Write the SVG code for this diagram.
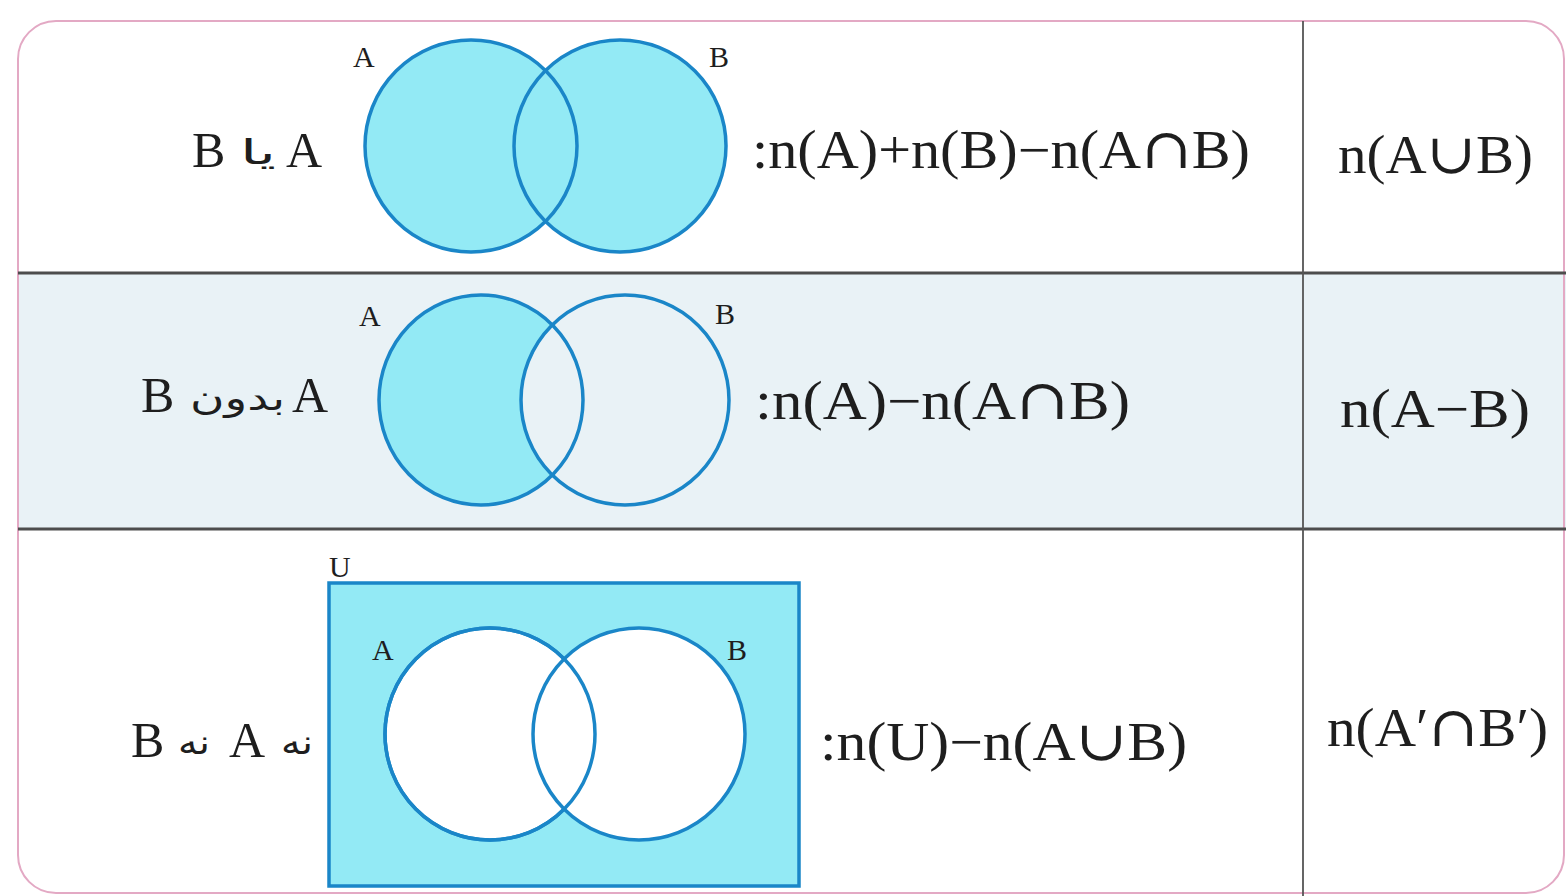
<svg xmlns="http://www.w3.org/2000/svg" width="1566" height="896" viewBox="0 0 1566 896">
<style>
.big{font-family:"Liberation Serif","DejaVu Serif",serif;font-size:54px;fill:#1e1e1e}
.op{font-family:"DejaVu Serif",serif;font-size:56px}
.lat{font-family:"Liberation Serif","DejaVu Serif",serif;font-size:50px;fill:#1e1e1e}
.fa{font-family:"DejaVu Sans","Noto Sans",sans-serif;font-size:34px;fill:#1e1e1e}
.lbl{font-family:"Liberation Serif","DejaVu Serif",serif;font-size:30px;fill:#1e1e1e}
.set{stroke:#1a86c8;stroke-width:3.5}
.cy{fill:#93eaf5}
.rowline{stroke:#4d4d4d;stroke-width:3}
</style>
<rect width="1566" height="896" fill="#ffffff"/>
<g id="row2-bg"><rect x="18" y="273" width="1548" height="256" fill="#e9f2f6"/></g>
<g id="frame"><rect x="18" y="21" width="1546" height="872" rx="38" fill="none" stroke="#e3a9c4" stroke-width="2"/></g>
<g id="grid">
<line class="rowline" x1="18" y1="273" x2="1566" y2="273"/>
<line class="rowline" x1="18" y1="529" x2="1566" y2="529"/>
<line x1="1303" y1="21" x2="1303" y2="896" stroke="#555" stroke-width="1.8"/>
</g>
<g id="row1">
<text class="lat" x="192" y="167">B</text>
<text class="fa" x="240" y="164" textLength="36" lengthAdjust="spacingAndGlyphs">یا</text>
<text class="lat" x="286" y="167">A</text>
<circle class="cy" cx="471" cy="146" r="106"/>
<circle class="cy" cx="620" cy="146" r="106"/>
<circle class="set" cx="471" cy="146" r="106" fill="none"/>
<circle class="set" cx="620" cy="146" r="106" fill="none"/>
<text class="lbl" x="353" y="67">A</text>
<text class="lbl" x="709" y="67">B</text>
<text class="big" x="752" y="168" textLength="498" lengthAdjust="spacingAndGlyphs">:n(A)+n(B)−n(A<tspan class="op">∩</tspan>B)</text>
<text class="big" x="1338" y="173" textLength="195" lengthAdjust="spacingAndGlyphs">n(A<tspan class="op">∪</tspan>B)</text>
</g>
<g id="row2">
<text class="lat" x="141" y="412">B</text>
<text class="fa" x="190" y="410" textLength="95" lengthAdjust="spacingAndGlyphs">بدون</text>
<text class="lat" x="292" y="412">A</text>
<ellipse class="cy" cx="481" cy="400" rx="102" ry="105"/>
<ellipse cx="625" cy="400" rx="104" ry="105" fill="#e9f2f6"/>
<ellipse class="set" cx="481" cy="400" rx="102" ry="105" fill="none"/>
<ellipse class="set" cx="625" cy="400" rx="104" ry="105" fill="none"/>
<text class="lbl" x="359" y="326">A</text>
<text class="lbl" x="715" y="324">B</text>
<text class="big" x="755" y="419" textLength="375" lengthAdjust="spacingAndGlyphs">:n(A)−n(A<tspan class="op">∩</tspan>B)</text>
<text class="big" x="1340" y="427" textLength="190" lengthAdjust="spacingAndGlyphs">n(A−B)</text>
</g>
<g id="row3">
<text class="lat" x="131" y="757">B</text>
<text class="fa" x="178" y="754" textLength="32" lengthAdjust="spacingAndGlyphs">نه</text>
<text class="lat" x="229" y="757">A</text>
<text class="fa" x="281" y="754" textLength="32" lengthAdjust="spacingAndGlyphs">نه</text>
<rect class="cy set" x="329" y="583" width="470" height="303"/>
<ellipse class="set" cx="490" cy="734" rx="105" ry="106" fill="#ffffff"/>
<ellipse class="set" cx="639" cy="734" rx="106" ry="106" fill="#ffffff"/>
<ellipse class="set" cx="490" cy="734" rx="105" ry="106" fill="none"/>
<text class="lbl" x="329" y="577">U</text>
<text class="lbl" x="372" y="660">A</text>
<text class="lbl" x="727" y="660">B</text>
<text class="big" x="820" y="760" textLength="367" lengthAdjust="spacingAndGlyphs">:n(U)−n(A<tspan class="op">∪</tspan>B)</text>
<text class="big" x="1327" y="746" textLength="221" lengthAdjust="spacingAndGlyphs">n(A′<tspan class="op">∩</tspan>B′)</text>
</g>
</svg>
